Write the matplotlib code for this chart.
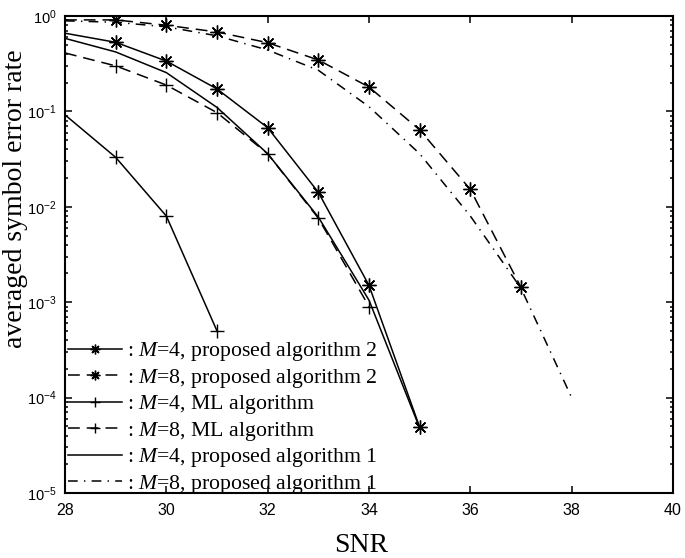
import matplotlib
matplotlib.use("Agg")
import matplotlib.pyplot as plt
import numpy as np

# ---- data ----
snr_alg2_m4 = [28, 29, 30, 31, 32, 33, 34, 35]
ser_alg2_m4 = [0.66, 0.53, 0.337, 0.172, 0.0675, 0.0142, 0.0015, 4.9e-5]

snr_alg2_m8 = [28, 29, 30, 31, 32, 33, 34, 35, 36, 37]
ser_alg2_m8 = [0.91, 0.91, 0.80, 0.68, 0.525, 0.346, 0.18, 0.064, 0.0152, 0.00143]

snr_ml_m4 = [28, 29, 30, 31]
ser_ml_m4 = [0.092, 0.033, 0.008, 5.0e-4]

snr_ml_m8 = [28, 29, 30, 31, 32, 33, 34]
ser_ml_m8 = [0.41, 0.30, 0.189, 0.097, 0.036, 0.0076, 9.0e-4]

snr_alg1_m4 = [28, 29, 30, 31, 32, 33, 34, 35]
ser_alg1_m4 = [0.583, 0.42, 0.255, 0.11, 0.036, 0.0078, 1.05e-3, 4.8e-5]

snr_alg1_m8 = [28, 29, 30, 31, 32, 33, 34, 35, 36, 37, 38]
ser_alg1_m8 = [0.89, 0.86, 0.77, 0.62, 0.44, 0.27, 0.112, 0.036, 0.008, 0.0014, 1.0e-4]

labels = [
    r": $M$=4, proposed algorithm 2",
    r": $M$=8, proposed algorithm 2",
    r": $M$=4, ML algorithm",
    r": $M$=8, ML algorithm",
    r": $M$=4, proposed algorithm 1",
    r": $M$=8, proposed algorithm 1",
]
xticks = [28, 30, 32, 34, 36, 38, 40]

plt.rcParams['font.family'] = ['Liberation Sans', 'DejaVu Sans']
plt.rcParams['lines.scale_dashes'] = False
plt.rcParams['axes.unicode_minus'] = False
plt.rcParams['mathtext.fontset'] = 'custom'
plt.rcParams['mathtext.it'] = 'Liberation Serif:italic'
plt.rcParams['mathtext.rm'] = 'Liberation Serif'

fig = plt.figure(figsize=(6.85, 5.58), dpi=100)
ax = fig.add_axes([65/685, 1-493/558, 608/685, 477/558])

lw = 1.1
dash = (8.5, 5)
dashdot = (7, 4.5, 1, 4.5)
ast = (8, 2, 0)

def draw(x, y, label, marker=None, dashes=None):
    kw = dict(color='k', lw=lw)
    if dashes is not None:
        kw['dashes'] = dashes
    line, = ax.plot(x, y, label=label, **kw)
    if marker is not None:
        line.set_marker(marker)
        line.set_markersize(10)
        line.set_markeredgewidth(1.0)
        line.set_markevery(list(range(1, len(x))))
    return line

draw(snr_alg2_m4, ser_alg2_m4, labels[0], ast)
draw(snr_alg2_m8, ser_alg2_m8, labels[1], ast, dash)
draw(snr_ml_m4, ser_ml_m4, labels[2], '+')
draw(snr_ml_m8, ser_ml_m8, labels[3], '+', dash)
draw(snr_alg1_m4, ser_alg1_m4, labels[4])
draw(snr_alg1_m8, ser_alg1_m8, labels[5], None, dashdot)

ax.set_yscale('log')
ax.set_xlim(28, 40)
ax.set_ylim(1e-5, 1)
ax.set_xticks(xticks)

for s in ax.spines.values():
    s.set_linewidth(1.5)
ax.tick_params(which='both', direction='in', top=True, right=True, width=1.1)
ax.tick_params(which='major', length=5)
ax.tick_params(which='minor', length=2.5)
ax.tick_params(axis='x', pad=7, labelsize=11.5)
ax.tick_params(axis='y', pad=6, labelsize=10.5)

ax.set_xlabel('SNR', fontsize=20, family='Liberation Serif')
ax.set_ylabel('averaged symbol error rate', fontsize=20, family='Liberation Serif')
ax.xaxis.label.set_va('center')
ax.yaxis.label.set_va('center')
ax.xaxis.set_label_coords(0.4877, -0.111)
ax.yaxis.set_label_coords(-0.0815, 0.616)

leg = ax.legend(loc='lower left', bbox_to_anchor=(0.0, -0.012), frameon=False,
                prop={'family': 'Liberation Serif', 'size': 15.7},
                handlelength=2.48, handletextpad=0.23, labelspacing=0.16,
                borderpad=0.14, borderaxespad=0.0, markerscale=0.7)
for lh in leg.get_lines():
    lh.set_markevery([1])

fig.savefig('out.png', dpi=100)
